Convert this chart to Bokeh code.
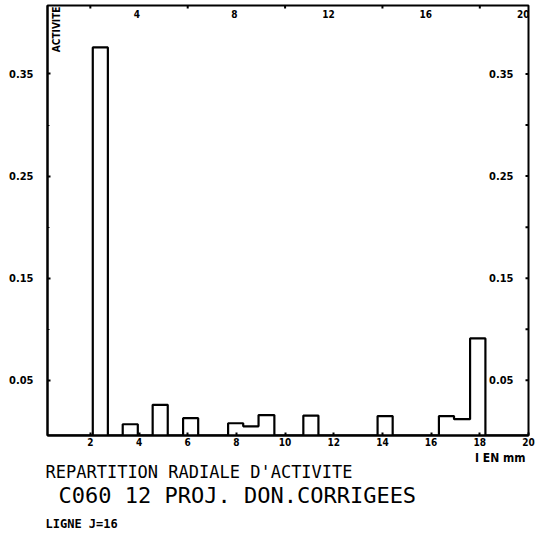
from math import pi
from bokeh.plotting import figure
from bokeh.models import Range1d, FixedTicker, Label, LabelSet, ColumnDataSource, Title
from bokeh.core.properties import value
from bokeh.embed import file_html
from bokeh.resources import INLINE

# ---- data ----
bar_centers = [2.41, 3.64, 4.87, 6.12, 7.97, 8.60, 9.25, 11.06, 14.11, 16.63, 17.29, 17.92]
bar_values = [0.376, 0.007, 0.026, 0.013, 0.008, 0.005, 0.016, 0.0155, 0.015, 0.015, 0.012, 0.091]
bar_width = 0.62

x_ticks = [2, 4, 6, 8, 10, 12, 14, 16, 18, 20]
x_tick_labels = ["2", "4", "6", "8", "10", "12", "14", "16", "18", "20"]
top_label_ticks = [4, 8, 12, 16, 20]
top_tick_labels = ["4", "8", "12", "16", "20"]
top_ticks = [2, 6, 10, 14, 18]
y_ticks = [0.05, 0.15, 0.25, 0.35]
y_tick_labels = ["0.05", "0.15", "0.25", "0.35"]
y_minor = [0.1, 0.2, 0.3]

X_MIN, X_MAX = 0.24, 20.0
Y_MIN, Y_MAX = -0.004, 0.417

title1 = "REPARTITION RADIALE D'ACTIVITE"
title2 = "C060 12 PROJ. DON.CORRIGEES"
title3 = "LIGNE J=16"
x_name = "I EN mm"
y_name = "ACTIVITE"

TICK_FONT = "DejaVu Sans Condensed"

p = figure(width=540, height=536, output_backend="svg", toolbar_location=None,
           x_range=Range1d(X_MIN, X_MAX), y_range=Range1d(Y_MIN, Y_MAX),
           min_border_left=47, min_border_right=12, min_border_top=5, min_border_bottom=101)
p.background_fill_color = "white"
p.border_fill_color = "white"
p.outline_line_color = "black"
p.outline_line_width = 2
p.xgrid.visible = False
p.ygrid.visible = False

# step outline of the histogram
base = Y_MIN
px, py = [X_MIN], [base]
prev_r = None
for c, v in zip(bar_centers, bar_values):
    l, r = c - bar_width / 2, c + bar_width / 2
    if prev_r is not None and abs(l - prev_r) < 0.05:
        px += [prev_r, r]
        py += [v, v]
    else:
        if prev_r is not None:
            px += [prev_r]
            py += [base]
        px += [l, l, r]
        py += [base, v, v]
    prev_r = r
px += [prev_r, X_MAX]
py += [base, base]
p.line(px, py, line_color="black", line_width=2.2)

# left axis
ya = p.yaxis[0]
ya.ticker = FixedTicker(ticks=y_ticks, minor_ticks=y_minor)
ya.major_label_overrides = {t: s for t, s in zip(y_ticks, y_tick_labels)}
ya.axis_line_width = 2
ya.major_tick_in = 3
ya.major_tick_out = 0
ya.minor_tick_in = 2
ya.minor_tick_out = 0
ya.major_tick_line_width = 2
ya.major_label_standoff = 14
ya.major_label_text_font = TICK_FONT
ya.major_label_text_font_style = "bold"
ya.major_label_text_font_size = "11px"
ya.major_label_text_color = "black"

# bottom axis
xa = p.xaxis[0]
xa.ticker = FixedTicker(ticks=x_ticks)
xa.major_label_overrides = {t: s for t, s in zip(x_ticks, x_tick_labels)}
xa.axis_line_width = 2
xa.major_tick_in = 3
xa.major_tick_out = 0
xa.major_tick_line_width = 2
xa.minor_tick_line_color = None
xa.major_label_standoff = 2
xa.major_label_text_font = TICK_FONT
xa.major_label_text_font_style = "bold"
xa.major_label_text_font_size = "10px"
xa.major_label_text_color = "black"

# right-side labels (inside the frame)
rsrc = ColumnDataSource(dict(x=[X_MAX] * len(y_ticks), y=y_ticks, t=y_tick_labels))
p.add_layout(LabelSet(x="x", y="y", text="t", source=rsrc, x_offset=-15,
                      text_align="right", text_baseline="middle",
                      text_font=value(TICK_FONT), text_font_style="bold",
                      text_font_size="11px", text_color="black"))
# top labels (inside the frame)
tsrc = ColumnDataSource(dict(x=top_label_ticks, y=[Y_MAX] * len(top_label_ticks), t=top_tick_labels))
p.add_layout(LabelSet(x="x", y="y", text="t", source=tsrc, y_offset=-4, x_offset=1,
                      text_align="right", text_baseline="top",
                      text_font=value(TICK_FONT), text_font_style="bold",
                      text_font_size="10px", text_color="black"))
# small tick marks on top and right edges
p.scatter(top_ticks, [Y_MAX] * len(top_ticks), marker="dash", angle=pi / 2, size=6,
          line_color="black", line_width=2)
p.scatter([X_MAX] * (len(y_ticks) + len(y_minor)), y_ticks + y_minor, marker="dash", size=6,
          line_color="black", line_width=2)

# vertical y-name inside frame
p.add_layout(Label(x=X_MIN, y=Y_MAX, x_offset=3, y_offset=-1, text=y_name, angle=pi / 2,
                   text_align="right", text_baseline="top",
                   text_font=TICK_FONT, text_font_style="bold",
                   text_font_size="10px", text_color="black"))

# texts below the chart (stacked below the x axis)
p.add_layout(Title(text=x_name, align="right", offset=3, standoff=0,
                   text_font=TICK_FONT, text_font_style="bold",
                   text_font_size="12px", text_color="black"), "below")
p.add_layout(Title(text=title1, align="left", offset=-2, standoff=-10,
                   text_font="DejaVu Sans Mono", text_font_style="normal",
                   text_font_size="17px", text_color="black"), "below")
p.add_layout(Title(text=title2, align="left", offset=11, standoff=8,
                   text_font="DejaVu Sans Mono", text_font_style="normal",
                   text_font_size="22px", text_color="black"), "below")
p.add_layout(Title(text=title3, align="left", offset=-2, standoff=6,
                   text_font="DejaVu Sans Mono", text_font_style="bold",
                   text_font_size="12px", text_color="black"), "below")

open("out.html", "w").write(file_html(p, INLINE))
